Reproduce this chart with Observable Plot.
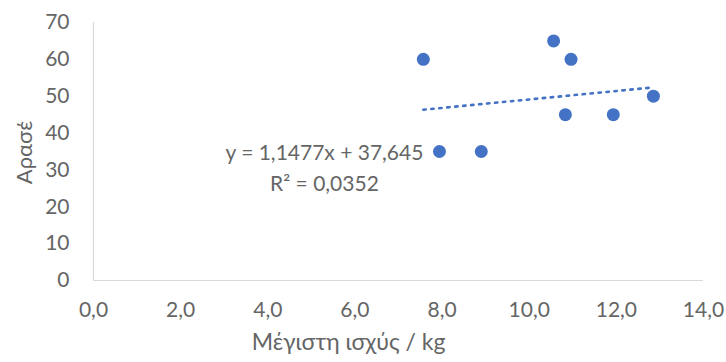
<!DOCTYPE html>
<html>
<head>
<meta charset="utf-8">
<script src="https://cdn.jsdelivr.net/npm/d3@7"></script>
<script src="https://cdn.jsdelivr.net/npm/@observablehq/plot@0.6"></script>
<style>
  html, body { margin: 0; padding: 0; background: #fff; }
  #chart svg { display: block; }
</style>
</head>
<body>
<div id="chart"></div>
<script>
const maxPower = [7.57, 7.94, 8.9, 10.56, 10.96, 10.83, 11.93, 12.85];
const arase = [60, 35, 35, 65, 60, 45, 45, 50];
const xTicks = [0, 2, 4, 6, 8, 10, 12, 14];
const yTicks = [0, 10, 20, 30, 40, 50, 60, 70];
const slope = 1.1477;
const intercept = 37.645;
const equationText = ["y = 1,1477x + 37,645", "R² = 0,0352"];
const xLabel = "Μέγιστη ισχύς / kg";
const yLabel = "Αρασέ";

const points = maxPower.map((x, i) => ({x, y: arase[i]}));
const xMin = d3.min(maxPower), xMax = d3.max(maxPower);
const trend = [xMin, xMax].map(x => ({x, y: slope * x + intercept}));

const fmt = d => d.toFixed(1).replace(".", ",");
const font = "Lato, sans-serif";
const grey = "#656565";
const fs = 21;

const chart = Plot.plot({
  width: 726,
  height: 362,
  marginTop: 22,
  marginBottom: 82,
  marginLeft: 93,
  marginRight: 23,
  style: {fontFamily: font, fontSize: fs + "px", color: grey, background: "#fff"},
  x: {domain: [0, 14], ticks: xTicks, tickFormat: fmt},
  y: {domain: [0, 70], ticks: yTicks},
  marks: [
    Plot.ruleY([0], {x1: 0, x2: 14, stroke: "#d9d9d9", strokeWidth: 1.2}),
    Plot.ruleX([0], {y1: 0, y2: 70, stroke: "#d9d9d9", strokeWidth: 1.2}),
    Plot.axisX({ticks: xTicks, tickFormat: fmt, tickSize: 0, tickPadding: 22, label: null, fill: grey, fontSize: fs}),
    Plot.axisY({ticks: yTicks, tickSize: 0, tickPadding: 24, label: null, fill: grey, fontSize: fs}),
    Plot.line(trend, {x: "x", y: "y", stroke: "#4472C4", strokeWidth: 2.6, strokeDasharray: "2.4 5.6"}),
    Plot.dot(points, {x: "x", y: "y", r: 6.5, fill: "#4472C4", stroke: "none"}),
    Plot.text([equationText[0]], {x: 5.3, y: 34.6, text: d => d, fill: grey, fontSize: fs, textAnchor: "middle"}),
    Plot.text([equationText[1]], {x: 5.3, y: 26.1, text: d => d, fill: grey, fontSize: fs, textAnchor: "middle"}),
    Plot.text([xLabel], {frameAnchor: "bottom", textAnchor: "middle", dx: -50, dy: 69, text: d => d, fill: grey, fontSize: 23}),
    Plot.text([yLabel], {frameAnchor: "left", textAnchor: "middle", dx: -69, dy: 1, rotate: -90, text: d => d, fill: grey, fontSize: 22})
  ]
});
document.getElementById("chart").appendChild(chart);
</script>
</body>
</html>
